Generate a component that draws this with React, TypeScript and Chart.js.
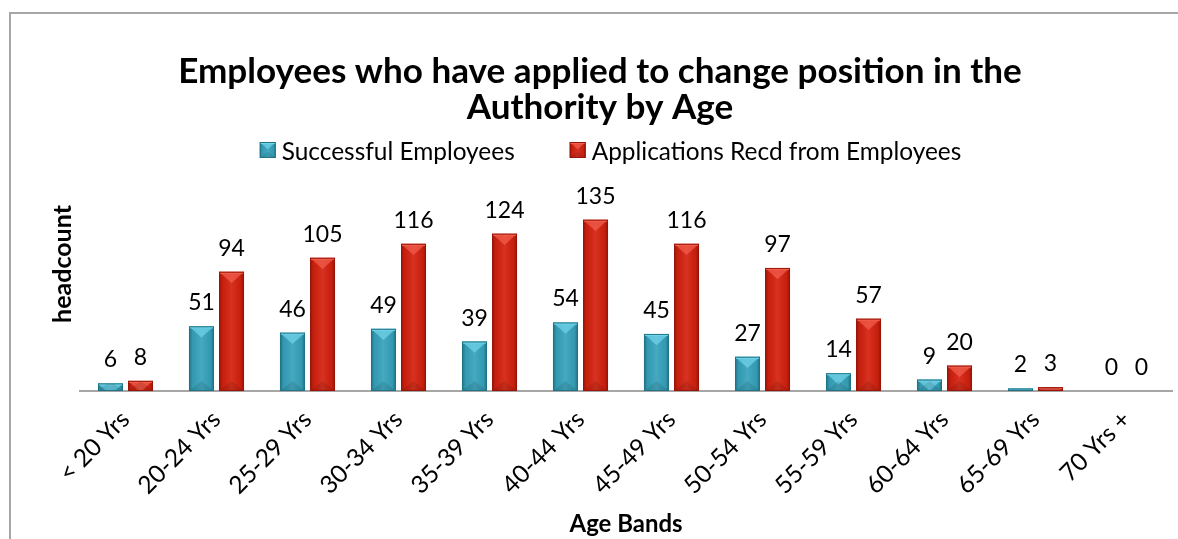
import React, { useEffect, useRef } from 'react';
import { Chart, registerables } from 'chart.js';

Chart.register(...registerables);

const TITLE_LINES = ['Employees who have applied to change position in the', 'Authority by Age'];
const CATEGORIES = ['< 20 Yrs', '20-24 Yrs', '25-29 Yrs', '30-34 Yrs', '35-39 Yrs', '40-44 Yrs', '45-49 Yrs', '50-54 Yrs', '55-59 Yrs', '60-64 Yrs', '65-69 Yrs', '70 Yrs +'];
const SUCCESSFUL = [6, 51, 46, 49, 39, 54, 45, 27, 14, 9, 2, 0];
const APPLICATIONS = [8, 94, 105, 116, 124, 135, 116, 97, 57, 20, 3, 0];
const SERIES_NAMES = ['Successful Employees', 'Applications Recd from Employees'];
const Y_TITLE = 'headcount';
const X_TITLE = 'Age Bands';
const Y_MAX = 160;

const FONT = 'Lato, "Open Sans", sans-serif';

const PALETTES = [
  { main: '#36a3bc', light: '#72d4e9', dark: '#1f7487' },
  { main: '#d4210f', light: '#f3604e', dark: '#9a1509' },
];

function fitSize(ctx: CanvasRenderingContext2D, text: string, weight: string, base: number, target: number) {
  ctx.font = `${weight} ${base}px ${FONT}`;
  const w = ctx.measureText(text).width;
  return w > 0 ? (base * target) / w : base;
}

function drawBevel(ctx: CanvasRenderingContext2D, l: number, t: number, w: number, h: number, pal: any) {
  if (h < 0.5 || w < 0.5) return;
  ctx.save();
  ctx.beginPath();
  ctx.rect(l, t, w, h);
  ctx.clip();
  const g = ctx.createLinearGradient(l, 0, l + w, 0);
  g.addColorStop(0, 'rgba(0,0,0,0.32)');
  g.addColorStop(0.14, 'rgba(0,0,0,0.06)');
  g.addColorStop(0.5, 'rgba(255,255,255,0.08)');
  g.addColorStop(0.86, 'rgba(0,0,0,0.06)');
  g.addColorStop(1, 'rgba(0,0,0,0.32)');
  ctx.fillStyle = g;
  ctx.fillRect(l, t, w, h);
  const cx = l + w / 2;
  ctx.beginPath();
  ctx.moveTo(l, t);
  ctx.lineTo(l + w, t);
  ctx.lineTo(cx, t + w * 0.45);
  ctx.closePath();
  ctx.globalAlpha = 0.7;
  ctx.fillStyle = pal.light;
  ctx.fill();
  ctx.globalAlpha = 1;
  ctx.fillRect(l, t, w, 2);
  ctx.beginPath();
  ctx.moveTo(l, t + h);
  ctx.lineTo(l + w, t + h);
  ctx.lineTo(cx, t + h - w * 0.4);
  ctx.closePath();
  ctx.fillStyle = 'rgba(0,0,0,0.10)';
  ctx.fill();
  ctx.restore();
  ctx.save();
  ctx.strokeStyle = pal.dark;
  ctx.lineWidth = 1;
  ctx.strokeRect(l + 0.5, t + 0.5, w - 1, h - 1);
  ctx.restore();
}

const decorPlugin = {
  id: 'decor',
  afterDatasetsDraw(chart: any) {
    const ctx: CanvasRenderingContext2D = chart.ctx;
    chart.data.datasets.forEach((ds: any, di: number) => {
      const meta = chart.getDatasetMeta(di);
      meta.data.forEach((el: any) => {
        const { x, y, base, width } = el.getProps(['x', 'y', 'base', 'width'], true);
        drawBevel(ctx, x - width / 2, Math.min(y, base), width, Math.abs(base - y), PALETTES[di]);
      });
    });
    ctx.save();
    ctx.font = `23px ${FONT}`;
    ctx.fillStyle = '#000';
    ctx.textAlign = 'center';
    ctx.textBaseline = 'alphabetic';
    chart.data.datasets.forEach((ds: any, di: number) => {
      const meta = chart.getDatasetMeta(di);
      meta.data.forEach((el: any, i: number) => {
        const { x, y } = el.getProps(['x', 'y'], true);
        ctx.fillText(String(ds.data[i]), x, y - 16);
      });
    });
    ctx.restore();
  },
  afterDraw(chart: any) {
    const ctx: CanvasRenderingContext2D = chart.ctx;
    ctx.save();
    ctx.fillStyle = '#000';
    ctx.textAlign = 'center';
    ctx.textBaseline = 'alphabetic';
    // title
    const ts = fitSize(ctx, TITLE_LINES[0], 'bold', 30, 844);
    ctx.font = `bold ${ts}px ${FONT}`;
    ctx.fillText(TITLE_LINES[0], 600, 83);
    ctx.fillText(TITLE_LINES[1], 600, 119);
    // legend
    const ls = fitSize(ctx, SERIES_NAMES[0], 'normal', 22, 233);
    ctx.font = `normal ${ls}px ${FONT}`;
    const box = 16;
    const gapBT = 6;
    const gapItems = 55;
    const w1 = ctx.measureText(SERIES_NAMES[0]).width;
    const w2 = ctx.measureText(SERIES_NAMES[1]).width;
    const total = box + gapBT + w1 + gapItems + box + gapBT + w2;
    let x = 610.5 - total / 2;
    ctx.textAlign = 'left';
    SERIES_NAMES.forEach((name, i) => {
      ctx.fillStyle = PALETTES[i].main;
      ctx.fillRect(x, 142, box, box);
      drawBevel(ctx, x, 142, box, box, PALETTES[i]);
      ctx.fillStyle = '#000';
      ctx.font = `normal ${ls}px ${FONT}`;
      ctx.fillText(name, x + box + gapBT, 160);
      x += box + gapBT + (i === 0 ? w1 : w2) + gapItems;
    });
    // y title
    ctx.translate(63, 264);
    ctx.rotate(-Math.PI / 2);
    const ys = fitSize(ctx, Y_TITLE, 'bold', 20, 118);
    ctx.font = `bold ${ys}px ${FONT}`;
    ctx.textAlign = 'center';
    ctx.textBaseline = 'middle';
    ctx.fillText(Y_TITLE, 0, 0);
    ctx.restore();
  },
};

export default function App() {
  const ref = useRef<HTMLCanvasElement | null>(null);
  useEffect(() => {
    if (!ref.current) return;
    const mctx = document.createElement('canvas').getContext('2d') as CanvasRenderingContext2D;
    const xTitleSize = fitSize(mctx, X_TITLE, 'bold', 20, 113);
    const chart = new Chart(ref.current, {
      type: 'bar',
      data: {
        labels: CATEGORIES,
        datasets: [
          {
            label: SERIES_NAMES[0],
            data: SUCCESSFUL,
            backgroundColor: PALETTES[0].main,
            borderWidth: 0,
            categoryPercentage: 0.66,
            barPercentage: 0.833,
          },
          {
            label: SERIES_NAMES[1],
            data: APPLICATIONS,
            backgroundColor: PALETTES[1].main,
            borderWidth: 0,
            categoryPercentage: 0.66,
            barPercentage: 0.833,
          },
        ],
      },
      options: {
        responsive: false,
        animation: false,
        layout: { padding: { left: 80, right: 6, top: 188, bottom: 0 } },
        plugins: {
          legend: { display: false },
          title: { display: false },
          tooltip: { enabled: false },
        },
        scales: {
          x: {
            grid: { display: false },
            border: { display: true, color: '#a6a6a6', width: 2 },
            ticks: {
              font: { family: FONT, size: 24.5 },
              color: '#000',
              maxRotation: 45,
              minRotation: 45,
              autoSkip: false,
              padding: 6,
            },
            title: {
              display: true,
              text: X_TITLE,
              font: { family: FONT, size: xTitleSize, weight: 'bold' },
              color: '#000',
              padding: { top: 4, bottom: 0 },
            },
            afterFit: (s: any) => {
              s.height = 148;
            },
          },
          y: { display: false, min: 0, max: Y_MAX },
        },
      },
      plugins: [decorPlugin],
    } as any);
    return () => chart.destroy();
  }, []);
  return (
    <div style={{ position: 'fixed', left: 0, top: 0, width: 1178, height: 539, overflow: 'hidden', background: '#fff' }}>
      <div
        style={{
          position: 'absolute',
          left: 9,
          top: 12,
          width: 1300,
          height: 700,
          borderTop: '2px solid #a6a6a6',
          borderLeft: '2px solid #a6a6a6',
        }}
      />
      <canvas ref={ref} width={1178} height={539} style={{ position: 'absolute', left: 0, top: 0, display: 'block' }} />
    </div>
  );
}
